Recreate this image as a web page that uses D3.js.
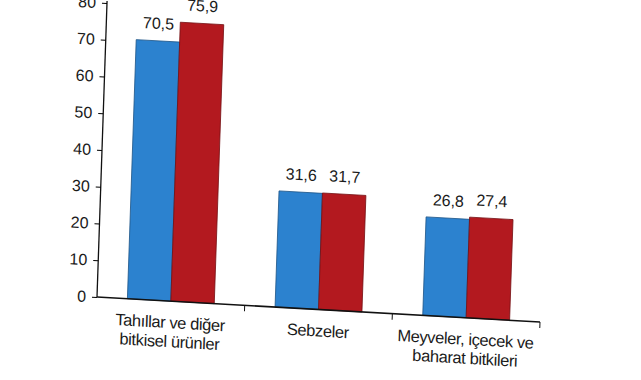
<!DOCTYPE html>
<html>
<head>
<meta charset="utf-8">
<script src="https://cdn.jsdelivr.net/npm/d3@7"></script>
<style>
  body { margin: 0; background: #fff; }
  text { font-family: "Liberation Sans", Arial, sans-serif; fill: #1a1a1a; }
</style>
</head>
<body>
<svg></svg>
<script>
// kategoriler ve iki seri
let categories = [
    ['Tahıllar ve diğer', 'bitkisel ürünler'],
    ['Sebzeler'],
    ['Meyveler, içecek ve', 'baharat  bitkileri']
];
let seriesNames = ['önceki yıl', 'son yıl'];
let seriesA = [70.5, 31.6, 26.8];
let seriesB = [75.9, 31.7, 27.4];
let yTicks = [0, 10, 20, 30, 40, 50, 60, 70, 80];
let colors = ['#2c82cf', '#b3191f'];

let width = 641;
let height = 380;
let padLeft = 97, padRight = 540, padTop = 3, padBottom = 297;

let svg = d3.select('svg').attr('width', width).attr('height', height);

// the source is a slightly tilted scan, so the whole chart gets a small skew
let sx = 0.0564, sy = -0.034;
let chart = svg.append('g')
    .attr('transform', `matrix(1, ${sx}, ${sy}, 1, ${-sy * padBottom}, ${-sx * padLeft})`);

let keys = categories.map((c, i) => i);

let x0 = d3.scaleBand().domain(keys).range([padLeft, padRight]);
let x1 = d3.scaleBand().domain(seriesNames).range([0, x0.bandwidth()]).paddingOuter(0.7);
let y = d3.scaleLinear().domain([0, 80]).range([padBottom, padTop]);

let rows = keys.map(i => ({ i, values: [seriesA[i], seriesB[i]] }));

/**
 * bars
 */
let groups = chart.append('g')
    .selectAll('g')
    .data(rows)
    .join('g')
    .attr('transform', d => `translate(${x0(d.i)}, 0)`);

groups.selectAll('rect')
    .data(d => d.values.map((v, j) => ({ name: seriesNames[j], v, j })))
    .join('rect')
    .attr('x', d => x1(d.name))
    .attr('width', x1.bandwidth())
    .attr('y', d => y(d.v))
    .attr('height', d => y(0) - y(d.v))
    .attr('fill', d => colors[d.j])
    .attr('stroke', d => d3.color(colors[d.j]).darker(1.2))
    .attr('stroke-width', 0.8);

groups.selectAll('text.val')
    .data(d => d.values.map((v, j) => ({ name: seriesNames[j], v, j })))
    .join('text')
    .attr('class', 'val')
    .attr('x', d => x1(d.name) + x1.bandwidth() / 2)
    .attr('y', d => y(d.v) - 12)
    .attr('text-anchor', 'middle')
    .style('font-size', '16px')
    .text(d => d3.format('.1f')(d.v).replace('.', ','));

/**
 * axes
 */
let yAxis = d3.axisLeft(y).tickValues(yTicks).tickSize(5).tickPadding(6);
let yLayer = chart.append('g')
    .attr('transform', `translate(${padLeft}, 0)`)
    .call(yAxis);
yLayer.select('.domain').attr('d', `M0,${padTop - 2}V${padBottom}`).attr('stroke', '#111').attr('stroke-width', 1.3);
yLayer.selectAll('text').style('font-size', '16px').attr('fill', '#1a1a1a');

let xLayer = chart.append('g').attr('transform', `translate(0, ${padBottom})`);
xLayer.append('line')
    .attr('x1', x0.range()[0]).attr('x2', x0.range()[1])
    .attr('stroke', '#111').attr('stroke-width', 1.6);
xLayer.selectAll('line.tick')
    .data(keys.slice(1).concat([keys.length]))
    .join('line')
    .attr('class', 'tick')
    .attr('x1', i => x0.range()[0] + i * x0.step())
    .attr('x2', i => x0.range()[0] + i * x0.step())
    .attr('y1', 0).attr('y2', 6)
    .attr('stroke', '#111');

let labels = xLayer.selectAll('text.cat')
    .data(rows)
    .join('text')
    .attr('class', 'cat')
    .attr('text-anchor', 'middle')
    .style('font-size', '16.5px')
    .style('letter-spacing', '-0.4px')
    .attr('transform', d => `translate(${x0(d.i) + x0.bandwidth() / 2}, 27)`);

labels.selectAll('tspan')
    .data(d => categories[d.i])
    .join('tspan')
    .attr('x', 0)
    .attr('dy', (d, k) => k === 0 ? 0 : 19)
    .text(d => d);
</script>
</body>
</html>
